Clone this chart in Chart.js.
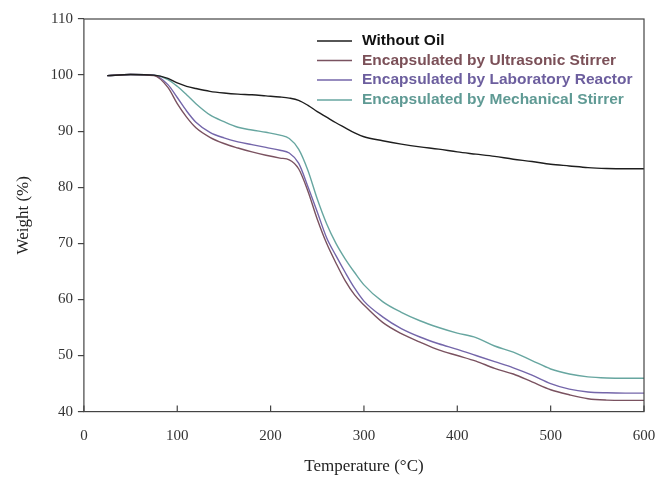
<!DOCTYPE html>
<html>
<head>
<meta charset="utf-8">
<script src="https://cdn.jsdelivr.net/npm/chart.js@4.4.0/dist/chart.umd.min.js"></script>
<style>
  html, body { margin: 0; padding: 0; background: #ffffff; }
  #wrap { width: 659px; height: 477px; }
</style>
</head>
<body>
<div id="wrap"><canvas id="c" width="659" height="477"></canvas></div>
<script>
const temperatures = [25, 50, 75, 90, 100, 110, 120, 135, 150, 165, 180, 195, 210, 220, 230, 240, 250, 260, 270, 280, 290, 300, 320, 340, 360, 380, 400, 420, 440, 460, 480, 500, 520, 540, 560, 580, 600];
const withoutOil = [99.9, 100.1, 100.0, 99.4, 98.6, 98.0, 97.6, 97.1, 96.8, 96.6, 96.5, 96.3, 96.1, 95.9, 95.5, 94.6, 93.5, 92.5, 91.5, 90.6, 89.7, 89.0, 88.3, 87.7, 87.2, 86.8, 86.3, 85.9, 85.5, 85.0, 84.6, 84.1, 83.8, 83.5, 83.35, 83.3, 83.3];
const ultrasonic = [99.9, 100.1, 99.9, 97.8, 94.9, 92.5, 90.6, 88.9, 87.8, 87.0, 86.3, 85.7, 85.2, 84.9, 83.3, 79.3, 74.3, 70.0, 66.5, 63.3, 60.8, 59.0, 55.9, 53.9, 52.4, 51.0, 50.0, 49.0, 47.7, 46.7, 45.3, 43.9, 43.0, 42.3, 42.05, 42.0, 42.0];
const labReactor = [99.9, 100.1, 100.0, 98.3, 96.0, 93.6, 91.6, 89.8, 88.8, 88.1, 87.6, 87.1, 86.6, 86.1, 84.3, 80.1, 75.6, 71.0, 67.8, 64.8, 62.0, 59.7, 56.9, 54.8, 53.3, 52.1, 51.1, 50.0, 48.9, 47.8, 46.5, 45.0, 44.0, 43.5, 43.35, 43.3, 43.3];
const mechanical = [99.9, 100.1, 100.0, 99.2, 98.0, 96.5, 94.9, 92.9, 91.7, 90.7, 90.2, 89.8, 89.3, 88.7, 86.8, 83.0, 77.9, 73.5, 70.0, 67.2, 64.8, 62.6, 59.6, 57.7, 56.2, 55.0, 54.0, 53.2, 51.7, 50.6, 49.1, 47.6, 46.7, 46.2, 46.0, 45.95, 45.95];
const seriesLabels = ["Without Oil", "Encapsulated by Ultrasonic Stirrer", "Encapsulated by Laboratory Reactor", "Encapsulated by Mechanical Stirrer"];
const xTicks = [0, 100, 200, 300, 400, 500, 600];
const yTicks = [40, 50, 60, 70, 80, 90, 100, 110];

const lineColors = ["#1e1e1e", "#7a5260", "#7466aa", "#67a6a0"];
const textColors = ["#111111", "#7b5058", "#6c5e9e", "#5f9a94"];
const seriesValues = [withoutOil, ultrasonic, labReactor, mechanical];

const datasets = seriesValues.map((vals, i) => ({
  label: seriesLabels[i],
  data: temperatures.map((t, j) => ({ x: t, y: vals[j] })),
  borderColor: lineColors[i],
  borderWidth: 1.4,
  pointRadius: 0,
  fill: false,
  cubicInterpolationMode: 'monotone'
}));

const framePlugin = {
  id: 'framePlugin',
  afterDraw(chart) {
    const ctx = chart.ctx;
    const a = chart.chartArea;
    const xs = chart.scales.x;
    ctx.save();
    ctx.strokeStyle = '#444';
    ctx.lineWidth = 1.2;
    ctx.strokeRect(a.left, a.top, a.right - a.left, a.bottom - a.top);
    // inward x ticks
    xTicks.forEach(v => {
      const px = xs.getPixelForValue(v);
      ctx.beginPath();
      ctx.moveTo(px, a.bottom);
      ctx.lineTo(px, a.bottom - 6);
      ctx.stroke();
    });
    // legend
    ctx.font = 'bold 15.5px "Liberation Sans", Arial, sans-serif';
    ctx.textBaseline = 'middle';
    ctx.textAlign = 'left';
    const rowY = [41, 60.5, 80, 100];
    chart.data.datasets.forEach((ds, i) => {
      const y = rowY[i];
      ctx.strokeStyle = ds.borderColor;
      ctx.lineWidth = 1.4;
      ctx.beginPath();
      ctx.moveTo(317, y);
      ctx.lineTo(352, y);
      ctx.stroke();
      ctx.fillStyle = textColors[i];
      ctx.fillText(ds.label, 362, y);
    });
    ctx.restore();
  }
};

new Chart(document.getElementById('c'), {
  type: 'line',
  data: { datasets },
  options: {
    responsive: false,
    animation: false,
    layout: { padding: { left: 13, right: 15, top: 19, bottom: 0 } },
    plugins: { legend: { display: false }, tooltip: { enabled: false } },
    scales: {
      x: {
        type: 'linear', min: 0, max: 600,
        afterBuildTicks: s => { s.ticks = xTicks.map(v => ({ value: v })); },
        grid: { display: true, drawOnChartArea: false, drawTicks: true, tickLength: 13, tickColor: 'rgba(0,0,0,0)' },
        border: { display: false },
        ticks: { color: '#333', padding: 2, font: { family: '"Liberation Serif", "Times New Roman", serif', size: 15 } },
        title: { display: true, text: 'Temperature (°C)', color: '#222', padding: { top: 10, bottom: 0 }, font: { family: '"Liberation Serif", "Times New Roman", serif', size: 17 } }
      },
      y: {
        type: 'linear', min: 40, max: 110,
        afterBuildTicks: s => { s.ticks = yTicks.map(v => ({ value: v })); },
        grid: { display: true, drawOnChartArea: false, drawTicks: true, tickLength: 6, color: '#444', lineWidth: 1.2 },
        border: { display: false },
        ticks: { color: '#333', padding: 5, font: { family: '"Liberation Serif", "Times New Roman", serif', size: 15 } },
        title: { display: true, text: 'Weight (%)', color: '#222', padding: { top: 0, bottom: 12 }, font: { family: '"Liberation Serif", "Times New Roman", serif', size: 17 } }
      }
    }
  },
  plugins: [framePlugin]
});
</script>
</body>
</html>
